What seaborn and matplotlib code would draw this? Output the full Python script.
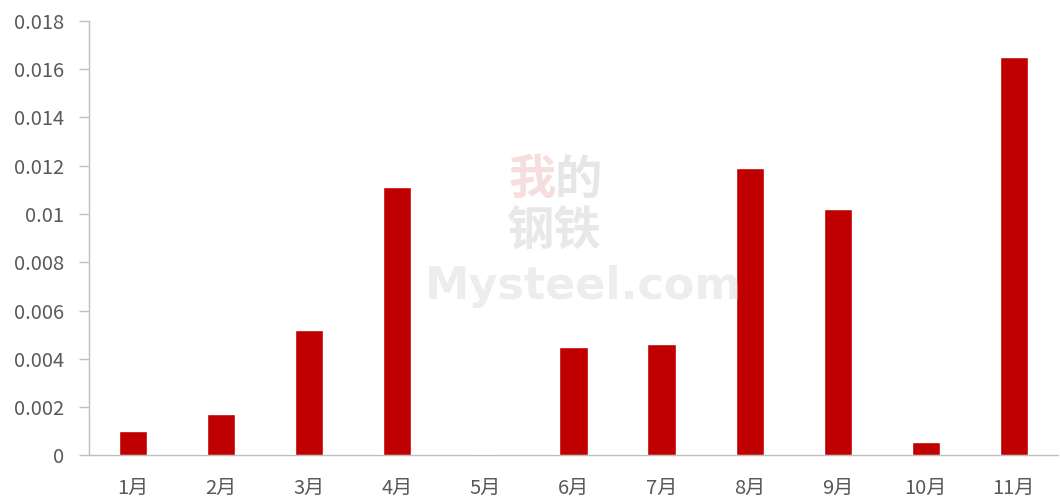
import matplotlib
matplotlib.use("Agg")
import matplotlib.pyplot as plt
import seaborn as sns
import pandas as pd

months = ["1月", "2月", "3月", "4月", "5月", "6月", "7月", "8月", "9月", "10月", "11月"]
values = [0.0010, 0.0017, 0.0052, 0.0111, 0.00002, 0.0045, 0.0046, 0.0119, 0.0102, 0.00054, 0.0165]
yticks = [0, 0.002, 0.004, 0.006, 0.008, 0.01, 0.012, 0.014, 0.016, 0.018]
ytick_labels = ["0", "0.002", "0.004", "0.006", "0.008", "0.01", "0.012", "0.014", "0.016", "0.018"]

sns.set_theme(style="white")
plt.rcParams['font.family'] = ['Noto Sans CJK SC', 'DejaVu Sans']

df = pd.DataFrame({"month": months, "value": values})

fig = plt.figure(figsize=(10.6, 4.99), dpi=100)
ax = fig.add_axes([0.084, 0.0872, 0.914, 0.871])

# watermark
fig.text(0.502, 0.64, "我", fontsize=34, color="#f6dede", ha="center", va="center",
         fontweight="bold", zorder=0)
fig.text(0.545, 0.64, "的", fontsize=34, color="#e6e6e6", ha="center", va="center",
         fontweight="bold", zorder=0)
fig.text(0.523, 0.535, "钢铁", fontsize=34, color="#e8e8e8", ha="center", va="center",
         fontweight="bold", zorder=0)
fig.text(0.55, 0.425, "Mysteel.com", fontsize=32, color="#ededed", ha="center", va="center",
         fontweight="bold", zorder=0, family=["DejaVu Sans"])

sns.barplot(data=df, x="month", y="value", color="#C00000", width=0.32, ax=ax,
            saturation=1, zorder=3)

ax.set_ylim(0, 0.018)
ax.set_xlim(-0.5, len(months) - 0.5)
ax.set_yticks(yticks)
ax.set_yticklabels(ytick_labels)
ax.set_xlabel("")
ax.set_ylabel("")
ax.patch.set_alpha(0)

for s in ["top", "right"]:
    ax.spines[s].set_visible(False)
for s in ["left", "bottom"]:
    ax.spines[s].set_visible(True)
    ax.spines[s].set_color("#BFBFBF")
    ax.spines[s].set_linewidth(1.0)

ax.tick_params(axis="y", which="both", left=True, length=7, width=1, color="#BFBFBF",
               labelsize=14.5, labelcolor="#595959", pad=11)
ax.tick_params(axis="x", which="both", bottom=False, labelsize=14.5, labelcolor="#595959", pad=10)

fig.savefig("out.png", dpi=100)
